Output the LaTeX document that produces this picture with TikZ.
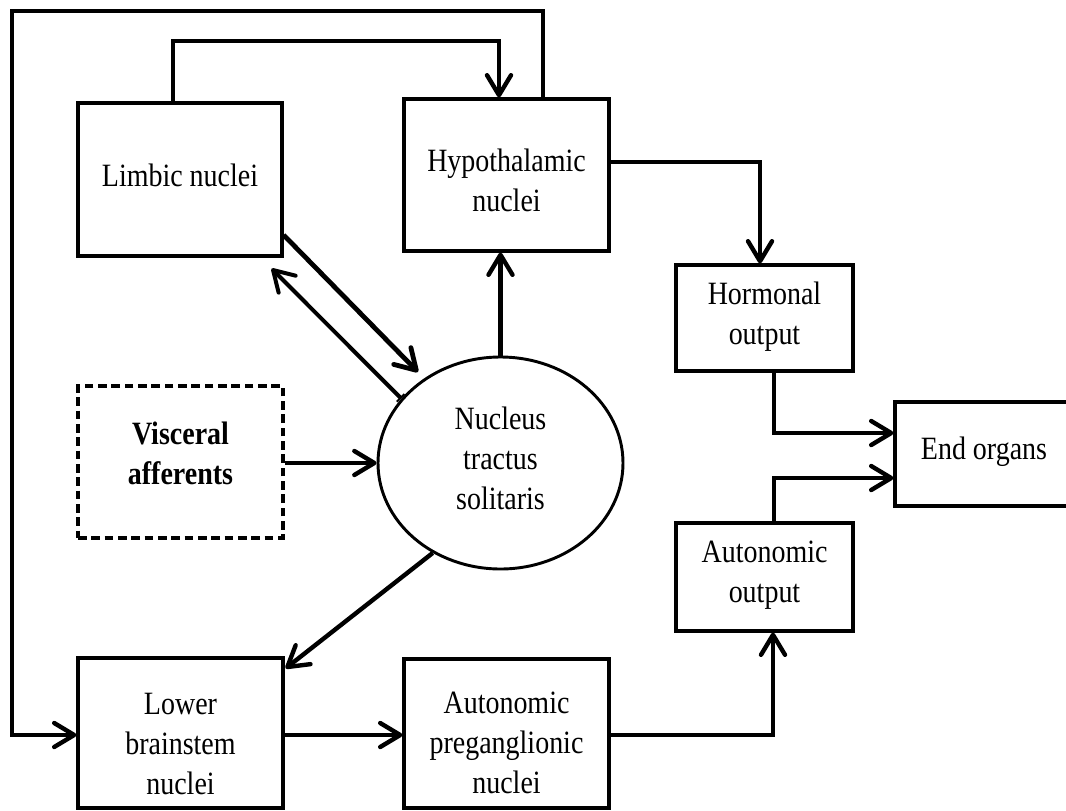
\documentclass[tikz,border=0pt]{standalone}
\usepackage{fontspec}
\setmainfont{Liberation Serif}[FakeStretch=0.86]
\usetikzlibrary{arrows.meta,shapes.geometric,calc}
\begin{document}
\begin{tikzpicture}[x=0.75pt,y=-0.75pt,
  myarrow/.tip={Straight Barb[length=15pt,width=18pt,round]},
  box/.style={draw, line width=2.4pt, inner sep=0pt},
  txt/.style={align=center, font=\fontsize{24.4}{30}\selectfont, inner sep=0pt},
  conn/.style={line width=3.3pt, -myarrow}
]
\clip (0,0) rectangle (1066,810);

% nodes
\node[box, minimum width=153pt, minimum height=114.75pt,
  label={[txt,yshift=3.4pt]center:Limbic nuclei}] (limbic) at (180,179.5) {};
\node[box, minimum width=153.75pt, minimum height=114pt,
  label={[txt,yshift=-3.75pt]center:{Hypothalamic\\nuclei}}] (hypo) at (506.5,175) {};
\node[box, minimum width=132.75pt, minimum height=79.5pt,
  label={[txt,yshift=0.75pt]center:{Hormonal\\output}}] (horm) at (764.5,318) {};
\node[box, minimum width=133.5pt, minimum height=78pt,
  label={[txt,yshift=1.5pt]center:End organs}] (endorg) at (984,454) {};
\node[box, dash pattern=on 6.5pt off 3.5pt, minimum width=153.75pt, minimum height=114pt,
  label={[txt,font=\fontsize{24.4}{30}\selectfont\bfseries,yshift=6.75pt]center:{Visceral\\afferents}}] (visc) at (180.5,462) {};
\node[draw, ellipse, line width=2.2pt, inner sep=0pt, minimum width=183.75pt, minimum height=159pt,
  label={[txt,yshift=3.75pt]center:{Nucleus\\tractus\\solitaris}}] (nts) at (500.5,463) {};
\node[box, minimum width=132.75pt, minimum height=81pt,
  label={[txt,yshift=1.5pt]center:{Autonomic\\output}}] (autout) at (764.5,577) {};
\node[box, minimum width=153.75pt, minimum height=112.5pt,
  label={[txt,yshift=-8.25pt]center:{Lower\\brainstem\\nuclei}}] (lower) at (180.5,733) {};
\node[box, minimum width=153.75pt, minimum height=111.75pt,
  label={[txt,yshift=-7pt]center:{Autonomic\\preganglionic\\nuclei}}] (pregang) at (506.5,733.5) {};

% connectors
\draw[conn] (limbic.north -| 173,0) |- (499,41) -- (hypo.north -| 499,0);
\draw[conn] (hypo.north -| 543,0) |- (12,11) |- (lower.west |- 0,735);
\draw[conn] (hypo.east |- 0,162) -| (horm.north -| 760,0);
\draw[conn] (horm.south -| 774,0) |- (endorg.west |- 0,433);
\draw[conn] (autout.north -| 774,0) |- (endorg.west |- 0,478);
\draw[conn] (pregang.east |- 0,735) -| (autout.south -| 773,0);
\draw[conn] (lower.east |- 0,735) -- (pregang.west |- 0,735);
\draw[conn] (visc.east |- 0,463) -- (nts.west |- 0,463);
\draw[conn] (nts.north) -- (hypo.south -| nts.north);
\draw[conn] (nts.233) -- ($(lower.north east)+(1,12)$);
\draw[conn, line width=3.6pt] (limbic.east |- 0,235) -- ($(nts.center)+(-82.5,-91)$);
\draw[line width=3pt, {Bar[width=8pt,line width=1.5pt]}-myarrow] (nts.147.4) -- ($(limbic.south east)+(-12,11)$);
\end{tikzpicture}
\end{document}
